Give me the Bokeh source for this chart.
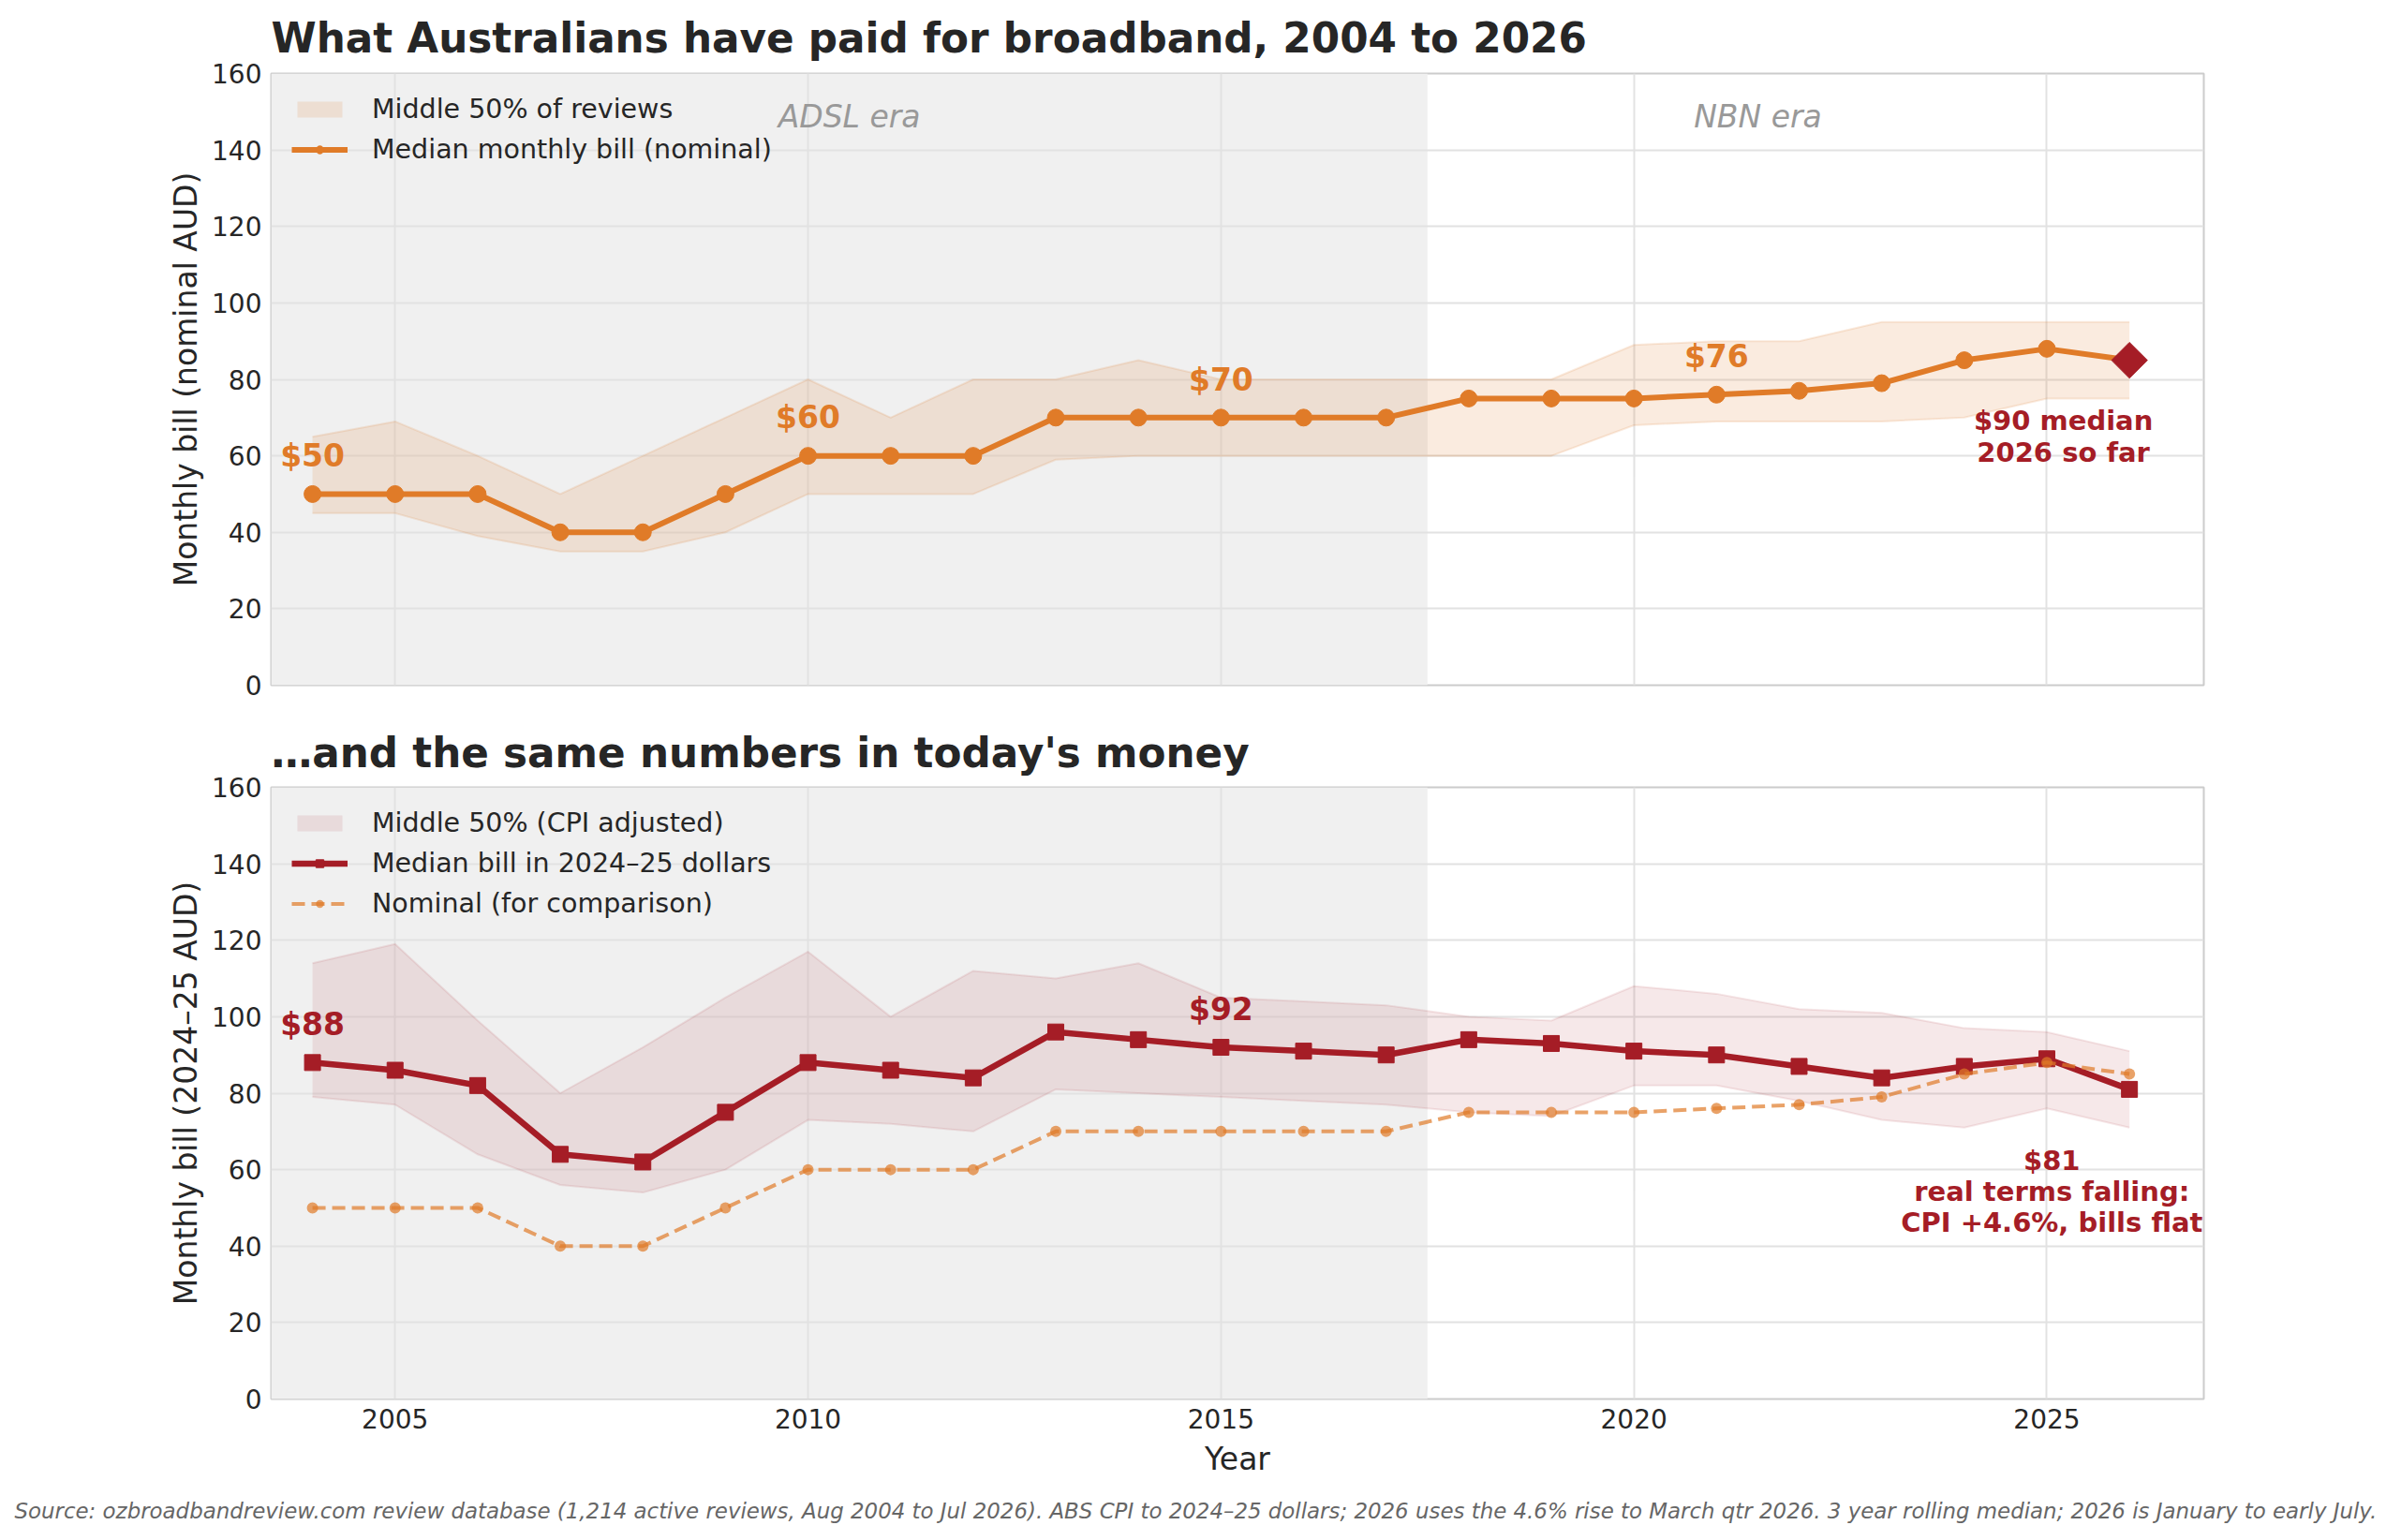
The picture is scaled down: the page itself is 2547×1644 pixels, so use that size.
from bokeh.plotting import figure
from bokeh.models import (Range1d, FixedTicker, BoxAnnotation, Legend, LegendItem,
                          Title, ColumnDataSource)
from bokeh.layouts import column
from bokeh.embed import file_html
from bokeh.resources import INLINE
from bokeh.core.properties import value

# ---------------- data ----------------
years = list(range(2004, 2027))
nominal_median = [50, 50, 50, 40, 40, 50, 60, 60, 60, 70, 70, 70, 70, 70, 75, 75, 75, 76, 77, 79, 85, 88, 85]
nominal_q1 = [45, 45, 39, 35, 35, 40, 50, 50, 50, 59, 60, 60, 60, 60, 60, 60, 68, 69, 69, 69, 70, 75, 75]
nominal_q3 = [65, 69, 60, 50, 60, 70, 80, 70, 80, 80, 85, 80, 80, 80, 80, 80, 89, 90, 90, 95, 95, 95, 95]
real_median = [88, 86, 82, 64, 62, 75, 88, 86, 84, 96, 94, 92, 91, 90, 94, 93, 91, 90, 87, 84, 87, 89, 81]
real_q1 = [79, 77, 64, 56, 54, 60, 73, 72, 70, 81, 80, 79, 78, 77, 75, 74, 82, 82, 78, 73, 71, 76, 71]
real_q3 = [114, 119, 99, 80, 92, 105, 117, 100, 112, 110, 114, 105, 104, 103, 100, 99, 108, 106, 102, 101, 97, 96, 91]

top_label_years = [2004, 2010, 2015, 2021]
bottom_label_years = [2004, 2015]
era_split = 2017.5
eras = [("ADSL era", 2004, 2017), ("NBN era", 2017, 2026)]
x_ticks = [2005, 2010, 2015, 2020, 2025]
y_ticks = [0, 20, 40, 60, 80, 100, 120, 140, 160]

TITLE = "What Australians have paid for broadband, 2004 to 2026"
SUBTITLE = "\u2026and the same numbers in today's money"
SOURCE = ("Source: ozbroadbandreview.com review database (1,214 active reviews, Aug 2004 to Jul 2026). "
          "ABS CPI to 2024\u201325 dollars; 2026 uses the 4.6% rise to March qtr 2026. "
          "3 year rolling median; 2026 is January to early July.")

# ---------------- style ----------------
ORANGE = "#e07b28"
RED = "#a51d26"
GREY_TXT = "#262626"
FONT = "DejaVu Sans"
W = 2547

x_range = Range1d(2003.5, 2026.9)


def make_fig(height, top, bottom, ylabel, title_standoff):
    p = figure(width=W, height=height, x_range=x_range, y_range=Range1d(0, 160),
               output_backend="svg", toolbar_location=None,
               min_border_left=289, min_border_right=195,
               min_border_top=top, min_border_bottom=bottom)
    p.background_fill_color = "white"
    p.border_fill_color = "white"
    p.outline_line_color = "#cccccc"
    p.outline_line_width = 2
    p.xaxis.ticker = FixedTicker(ticks=x_ticks)
    p.yaxis.ticker = FixedTicker(ticks=y_ticks)
    for ax in p.axis:
        ax.axis_line_color = None
        ax.major_tick_line_color = None
        ax.minor_tick_line_color = None
        ax.major_tick_out = 0
        ax.major_tick_in = 0
        ax.major_label_text_font = FONT
        ax.major_label_text_font_size = "28px"
        ax.major_label_text_color = GREY_TXT
        ax.major_label_standoff = 10
        ax.axis_label_text_font = FONT
        ax.axis_label_text_font_size = "33px"
        ax.axis_label_text_font_style = "normal"
        ax.axis_label_text_color = GREY_TXT
        ax.axis_label_standoff = 10
    p.yaxis.axis_label_standoff = 5
    p.yaxis.axis_label = ylabel
    p.grid.grid_line_color = "#e2e2e2"
    p.grid.grid_line_width = 2
    shade = BoxAnnotation(left=x_range.start, right=era_split, fill_color="#f0f0f0",
                          fill_alpha=1.0, line_color=None, level="image")
    p.add_layout(shade)
    p.title.text_font = FONT
    p.title.text_font_size = "43.7px"
    p.title.text_font_style = "bold"
    p.title.text_color = GREY_TXT
    p.title.align = "left"
    p.title.standoff = title_standoff
    return p


def style_legend(leg):
    leg.location = "top_left"
    leg.background_fill_alpha = 0
    leg.border_line_color = None
    leg.label_text_font = FONT
    leg.label_text_font_size = "28.5px"
    leg.label_text_color = GREY_TXT
    leg.glyph_width = 60
    leg.glyph_height = 21
    leg.label_height = 31
    leg.spacing = 10
    leg.padding = 12
    leg.margin = 22
    leg.label_standoff = 26


# ---------------- top panel ----------------
p1 = make_fig(751, 77, 20, "Monthly bill (nominal AUD)", 25)
p1.title.text = TITLE
p1.xaxis.visible = False

src1 = ColumnDataSource(dict(x=years, m=nominal_median, lo=nominal_q1, hi=nominal_q3))
band1 = p1.varea(x="x", y1="lo", y2="hi", source=src1, fill_color=ORANGE, fill_alpha=0.15)
p1.line(x="x", y="lo", source=src1, line_color=ORANGE, line_alpha=0.15, line_width=2)
p1.line(x="x", y="hi", source=src1, line_color=ORANGE, line_alpha=0.15, line_width=2)
line1 = p1.line(x="x", y="m", source=src1, line_color=ORANGE, line_width=6)
dots1 = p1.scatter(x=years[:-1], y=nominal_median[:-1], marker="circle", size=18,
                   fill_color=ORANGE, line_color=ORANGE)
p1.scatter(x=[years[-1]], y=[nominal_median[-1]], marker="square", angle=0.785398,
           size=27, fill_color=RED, line_color=RED)

for name, a, b in eras:
    p1.text(x=[(a + b) / 2], y=[148.7], text=[name], text_font=value(FONT),
            text_font_style="italic", text_font_size="33px", text_color="#999999",
            text_align="center", text_baseline="middle")

lbl1 = ColumnDataSource(dict(
    x=top_label_years,
    y=[nominal_median[years.index(yv)] + 10 for yv in top_label_years],
    t=["$%d" % nominal_median[years.index(yv)] for yv in top_label_years]))
p1.text(x="x", y="y", text="t", source=lbl1, text_font=value(FONT), text_font_style="bold",
        text_font_size="33px", text_color=ORANGE, text_align="center", text_baseline="middle")

p1.text(x=[years[-1] - 0.8], y=[nominal_median[-1] - 20], text=["$90 median\n2026 so far"],
        text_font=value(FONT), text_font_style="bold", text_font_size="29px", text_color=RED,
        text_align="center", text_baseline="middle", text_line_height=1.0)

leg1 = Legend(items=[LegendItem(label="Middle 50% of reviews", renderers=[band1]),
                     LegendItem(label="Median monthly bill (nominal)", renderers=[line1, dots1])])
style_legend(leg1)
p1.add_layout(leg1)

# ---------------- bottom panel ----------------
p2 = make_fig(893, 89, 151, "Monthly bill (2024\u201325 AUD)", 24)
p2.title.text = SUBTITLE
p2.xaxis.axis_label = "Year"

src2 = ColumnDataSource(dict(x=years, m=real_median, lo=real_q1, hi=real_q3, n=nominal_median))
band2 = p2.varea(x="x", y1="lo", y2="hi", source=src2, fill_color=RED, fill_alpha=0.1)
p2.line(x="x", y="lo", source=src2, line_color=RED, line_alpha=0.1, line_width=2)
p2.line(x="x", y="hi", source=src2, line_color=RED, line_alpha=0.1, line_width=2)
line2 = p2.line(x="x", y="m", source=src2, line_color=RED, line_width=6.5)
sq2 = p2.scatter(x="x", y="m", source=src2, marker="square", size=17, fill_color=RED, line_color=RED)
line3 = p2.line(x="x", y="n", source=src2, line_color=ORANGE, line_alpha=0.7, line_width=4,
                line_dash="14 7")
dots3 = p2.scatter(x="x", y="n", source=src2, marker="circle", size=12, fill_color=ORANGE,
                   fill_alpha=0.7, line_color=None)

lbl2 = ColumnDataSource(dict(
    x=bottom_label_years,
    y=[real_median[years.index(yv)] + 10 for yv in bottom_label_years],
    t=["$%d" % real_median[years.index(yv)] for yv in bottom_label_years]))
p2.text(x="x", y="y", text="t", source=lbl2, text_font=value(FONT), text_font_style="bold",
        text_font_size="33px", text_color=RED, text_align="center", text_baseline="middle")

p2.text(x=[years[-1] - 0.94], y=[real_median[-1] - 26.7],
        text=["$%d\nreal terms falling:\nCPI +4.6%%, bills flat" % real_median[-1]],
        text_font=value(FONT), text_font_style="bold", text_font_size="29px", text_color=RED,
        text_align="center", text_baseline="middle", text_line_height=0.96)

leg2 = Legend(items=[LegendItem(label="Middle 50% (CPI adjusted)", renderers=[band2]),
                     LegendItem(label="Median bill in 2024\u201325 dollars", renderers=[line2, sq2]),
                     LegendItem(label="Nominal (for comparison)", renderers=[line3, dots3])])
style_legend(leg2)
p2.add_layout(leg2)

src_title = Title(text=SOURCE, align="left", offset=-274, text_font=FONT,
                  text_font_size="22.9px", text_font_style="italic", text_color="#666666",
                  standoff=37)
p2.add_layout(src_title, "below")

layout = column(p1, p2, spacing=0)
open("out.html", "w").write(file_html(layout, INLINE))
